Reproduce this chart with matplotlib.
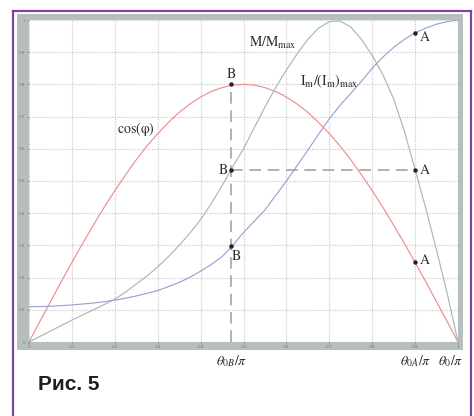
import numpy as np
import matplotlib
matplotlib.use("Agg")
import matplotlib.pyplot as plt
from matplotlib.patches import Rectangle
from matplotlib.lines import Line2D

plt.rcParams['mathtext.fontset'] = 'stix'

# theta/pi grid
x = [0.0, 0.025, 0.05, 0.075, 0.1, 0.125, 0.15, 0.175, 0.2, 0.225, 0.25,
     0.275, 0.3, 0.325, 0.35, 0.375, 0.4, 0.425, 0.45, 0.475, 0.5,
     0.525, 0.55, 0.575, 0.6, 0.625, 0.65, 0.675, 0.7, 0.725, 0.75,
     0.775, 0.8, 0.825, 0.85, 0.875, 0.9, 0.925, 0.95, 0.975, 1.0]

cos_phi = [0.0, 0.063, 0.125, 0.187, 0.247, 0.306, 0.363, 0.418, 0.470, 0.519, 0.566,
           0.609, 0.647, 0.682, 0.713, 0.739, 0.761, 0.778, 0.790, 0.798, 0.800,
           0.798, 0.790, 0.778, 0.761, 0.739, 0.713, 0.682, 0.647, 0.609, 0.566,
           0.519, 0.470, 0.418, 0.363, 0.306, 0.247, 0.187, 0.125, 0.063, 0.0]

m_ratio = [0.0, 0.017, 0.034, 0.051, 0.068, 0.084, 0.100, 0.116, 0.133, 0.155, 0.180,
           0.205, 0.233, 0.265, 0.300, 0.338, 0.380, 0.430, 0.485, 0.545, 0.600,
           0.665, 0.730, 0.790, 0.845, 0.895, 0.940, 0.975, 0.995, 0.997, 0.978,
           0.940, 0.890, 0.830, 0.755, 0.655, 0.535, 0.415, 0.285, 0.150, 0.0]

im_ratio = [0.110, 0.110, 0.111, 0.113, 0.115, 0.118, 0.121, 0.125, 0.130, 0.136, 0.143,
            0.151, 0.160, 0.172, 0.185, 0.201, 0.220, 0.241, 0.265, 0.300, 0.340,
            0.375, 0.410, 0.455, 0.500, 0.548, 0.596, 0.645, 0.693, 0.735, 0.772,
            0.810, 0.850, 0.885, 0.915, 0.940, 0.960, 0.975, 0.987, 0.995, 1.000]

# operating points
theta_b = 0.472
theta_a = 0.9
b_vals = [0.8, 0.534, 0.298]
a_vals = [0.96, 0.534, 0.25]

ticks = [0, 0.1, 0.2, 0.3, 0.4, 0.5, 0.6, 0.7, 0.8, 0.9, 1]
tick_labels = ['0', '0.1', '0.2', '0.3', '0.4', '0.5', '0.6', '0.7', '0.8', '0.9', '1']

W, H = 474, 416
fig = plt.figure(figsize=(4.74, 4.16), dpi=100)

# gray frame and purple border
fig.patches.append(Rectangle((17 / W, 1 - 350 / H), (463 - 17) / W, (350 - 14) / H,
                             transform=fig.transFigure, facecolor='#b6bebe',
                             edgecolor='none', zorder=-5))
pc = '#7a44a8'
for xs, ys in [([13, 13], [11, 416]), ([471, 471], [11, 416]), ([13, 471], [11, 11])]:
    fig.lines.append(Line2D([v / W for v in xs], [1 - v / H for v in ys],
                            transform=fig.transFigure, color=pc, lw=1.6))

ax = fig.add_axes([29 / W, 1 - 342 / H, (458 - 29) / W, (342 - 20) / H])
ax.set_zorder(1)
ax.set_facecolor('white')
ax.set_xlim(0, 1)
ax.set_ylim(0, 1)
ax.set_xticks(ticks)
ax.set_yticks(ticks)
ax.set_xticklabels(tick_labels)
ax.set_yticklabels(tick_labels)
ax.tick_params(labelsize=3, colors='#777777', length=1.5, width=0.4, pad=1)
for s in ax.spines.values():
    s.set_visible(False)
ax.grid(True, color='#cdcdcd', linestyle=(0, (1, 1)), linewidth=0.9)
ax.set_axisbelow(True)

ax.plot(x, cos_phi, color='#ec8f8f', lw=0.85)
ax.plot(x, m_ratio, color='#a4bcae', lw=0.85)
ax.plot(x, im_ratio, color='#a0a0d4', lw=0.85)

# construction lines through B and A
ax.plot([theta_b, theta_b], [0, b_vals[0]], color='#a4a4a4', lw=1.2, dashes=(7, 4))
ax.plot([theta_b, theta_a], [b_vals[1], a_vals[1]], color='#a4a4a4', lw=1.2, dashes=(7, 4))
ax.plot([theta_b] * 3, b_vals, 'o', color='#222222', ms=2.2)
ax.plot([theta_a] * 3, a_vals, 'o', color='#222222', ms=2.2)

tk = dict(fontsize=10, color='#2a2a2a', family='STIXGeneral')
ax.text(theta_b, b_vals[0] + 0.012, 'B', ha='center', va='bottom', **tk)
ax.text(theta_b - 0.008, b_vals[1], 'B', ha='right', va='center', **tk)
ax.text(theta_b + 0.0, b_vals[2] - 0.012, 'B', ha='left', va='top', **tk)
ax.text(theta_a + 0.01, a_vals[0] - 0.015, 'A', ha='left', va='center', **tk)
ax.text(theta_a + 0.01, a_vals[1], 'A', ha='left', va='center', **tk)
ax.text(theta_a + 0.01, a_vals[2] + 0.005, 'A', ha='left', va='center', **tk)

ax.text(0.25, 0.66, r'$\mathrm{cos(\varphi)}$', ha='center', va='center', fontsize=10, color='#2a2a2a')
ax.text(0.567, 0.93, r'$\mathrm{M/M_{max}}$', ha='center', va='center', fontsize=10, color='#2a2a2a')
ax.text(0.70, 0.81, r'$\mathrm{I_m/(I_m)_{max}}$', ha='center', va='center', fontsize=10, color='#2a2a2a')

# angle labels under the axis
fig.text(232 / W, 1 - 361 / H, r'$\theta_{0B}/\pi$', ha='center', va='center', fontsize=10, color='#2a2a2a')
fig.text(416 / W, 1 - 361 / H, r'$\theta_{0A}/\pi$', ha='center', va='center', fontsize=10, color='#2a2a2a')
fig.text(451 / W, 1 - 361 / H, r'$\theta_0/\pi$', ha='center', va='center', fontsize=10, color='#2a2a2a')

fig.text(38 / W, 1 - 385 / H, 'Рис. 5', ha='left', va='center', fontsize=15,
         fontweight='bold', color='#1e1e1e', family=['Liberation Sans Narrow', 'Liberation Sans'])

fig.savefig('out.png', dpi=100)
